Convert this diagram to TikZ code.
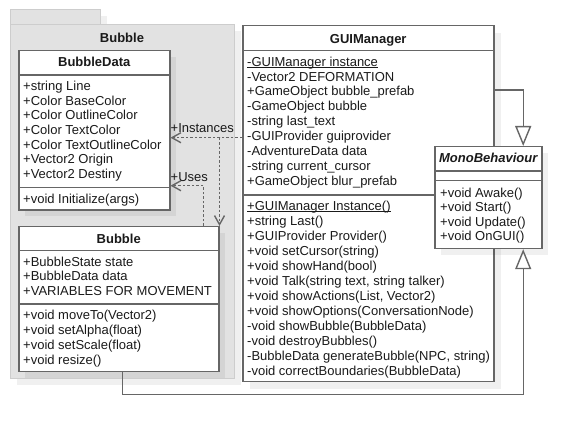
\documentclass[tikz,border=0pt]{standalone}
\usepackage{fontspec}
\setmainfont{Liberation Sans}
\usetikzlibrary{arrows.meta,calc}
\definecolor{linegray}{HTML}{666666}
\definecolor{textcol}{HTML}{1A1A1A}
\definecolor{pkgfill}{HTML}{E2E2E2}
\definecolor{pkgline}{HTML}{CDCDCD}
\newcommand{\umlfont}{\fontsize{13}{15}\selectfont}
\newcommand{\undl}[1]{\setbox0\hbox{#1}\rlap{\rule[-2pt]{\wd0}{1pt}}\box0}
\tikzset{
  cls/.style={draw=linegray, line width=1.5pt, fill=white, inner sep=0pt, anchor=north west},
  shad/.style={fill=black, fill opacity=0.06, draw=none},
  pkg/.style={draw=pkgline, line width=0.8pt, fill=pkgfill},
  txt/.style={anchor=base west, inner sep=0pt, text=textcol, font=\umlfont},
  hdr/.style={anchor=base, inner sep=0pt, font=\umlfont\bfseries, text=textcol},
  sep/.style={draw=linegray, line width=1.5pt},
  conn/.style={draw=linegray, line width=1.4pt},
  dep/.style={conn, dash pattern=on 2.5pt off 2pt, -{Straight Barb[length=9pt,width=10pt]}},
  gen/.style={conn, -{Triangle[open, length=20pt, width=16pt, fill=white]}},
}
\begin{document}
\begin{tikzpicture}[x=1pt, y=-1pt]
\useasboundingbox (0,0) rectangle (581,435);
% package
\fill[shad] (17,16.5) rectangle (107,31);
\fill[shad] (17,31) rectangle (241,385);
\draw[pkg] (10,9.5) rectangle (100,24);
\draw[pkg] (10,24) rectangle (234,378);
\node[hdr] (pkglabel) at (122,42.5) {Bubble};

% BubbleData
\fill[shad] (25,57) rectangle (176,216.3);
\node[cls, minimum width=151pt, minimum height=159.3pt] (bdata) at (18,50) {};
\node[hdr] (bdatah) at ($(bdata.north)+(0,16.5)$) {BubbleData};
\draw[sep] (bdata.west |- 0,75) -- (bdata.east |- 0,75);
\draw[sep] (bdata.west |- 0,187.7) -- (bdata.east |- 0,187.7);
\foreach \t [count=\i] in {{+string Line},{+Color BaseColor},{+Color OutlineColor},{+Color TextColor},{+Color TextOutlineColor},{+Vector2 Origin},{+Vector2 Destiny}}
  \node[txt] (bda\i) at (23, 90.5+14.7*\i-14.7) {\t};
\node[txt] (bdm1) at (23,203.8) {+void Initialize(args)};

% Bubble
\fill[shad] (25,233) rectangle (225,378);
\node[cls, minimum width=200pt, minimum height=145pt] (bubble) at (18,226) {};
\node[hdr] (bubbleh) at ($(bubble.north)+(0,17.5)$) {Bubble};
\draw[sep] (bubble.west |- 0,250.7) -- (bubble.east |- 0,250.7);
\draw[sep] (bubble.west |- 0,304) -- (bubble.east |- 0,304);
\foreach \t [count=\i] in {{+BubbleState state},{+BubbleData data},{+VARIABLES FOR MOVEMENT}}
  \node[txt] (bba\i) at (23, 266.2+14.5*\i-14.5) {\t};
\foreach \t [count=\i] in {{+void moveTo(Vector2)},{+void setAlpha(float)},{+void setScale(float)},{+void resize()}}
  \node[txt] (bbm\i) at (23, 319.5+15*\i-15) {\t};

% GUIManager
\fill[shad] (250,33) rectangle (501,389);
\node[cls, minimum width=251pt, minimum height=356pt] (gui) at (242,25) {};
\node[hdr] (guih) at ($(gui.north)+(0,18.5)$) {GUIManager};
\draw[sep] (gui.west |- 0,50.7) -- (gui.east |- 0,50.7);
\draw[sep] (gui.west |- 0,195) -- (gui.east |- 0,195);
\foreach \t [count=\i] in {{\undl{-GUIManager instance}},{-Vector2 DEFORMATION},{+GameObject bubble\_prefab},{-GameObject bubble},{-string last\_text},{-GUIProvider guiprovider},{-AdventureData data},{-string current\_cursor},{+GameObject blur\_prefab}}
  \node[txt] (gua\i) at (247, 66.2+14.9*\i-14.9) {\t};
\foreach \t [count=\i] in {{\undl{+GUIManager Instance()}},{+string Last()},{+GUIProvider Provider()},{+void setCursor(string)},{+void showHand(bool)},{+void Talk(string text, string talker)},{+void showActions(List, Vector2)},{+void showOptions(ConversationNode)},{-void showBubble(BubbleData)},{-void destroyBubbles()},{-BubbleData generateBubble(NPC, string)},{-void correctBoundaries(BubbleData)}}
  \node[txt] (gum\i) at (247, 210.5+15*\i-15) {\t};

% MonoBehaviour
\fill[shad] (441,153) rectangle (548,254.7);
\node[cls, minimum width=107pt, minimum height=101.7pt] (mono) at (434,146) {};
\node[hdr, font=\umlfont\bfseries\itshape] (monoh) at ($(mono.north)+(0,16.5)$) {MonoBehaviour};
\draw[sep] (mono.west |- 0,171) -- (mono.east |- 0,171);
\draw[sep] (mono.west |- 0,180.7) -- (mono.east |- 0,180.7);
\foreach \t [count=\i] in {{+void Awake()},{+void Start()},{+void Update()},{+void OnGUI()}}
  \node[txt] (mom\i) at (440, 197.2+14.5*\i-14.5) {\t};

% connectors
\coordinate (iy) at (0,137.7);
\coordinate (uy) at (0,185.7);
\coordinate (gy) at (0,90);
\coordinate (monoin) at ($(mono.north east)+(-19.3,0)$);
\coordinate (monoin2) at ($(mono.south east)+(-19.3,0)$);
\coordinate (bubout) at ($(bubble.south)+(4,0)$);
\coordinate (usesout) at ($(bubble.north east)+(-16.3,0)$);

\draw[dep] (gui.west |- iy) -| (bubble.north east);
\draw[dep] (gui.west |- iy) -- (bdata.east |- iy);
\draw[dep] (usesout) |- (bdata.east |- uy);
\node[txt] (instlbl) at (170.5,132.8) {+Instances};
\node[txt] (useslbl) at (170.5,181.2) {+Uses};

\draw[gen] (gui.east |- gy) -| (monoin);
\draw[gen] (bubout) -- ++(0,22) -| (monoin2);
\end{tikzpicture}
\end{document}
